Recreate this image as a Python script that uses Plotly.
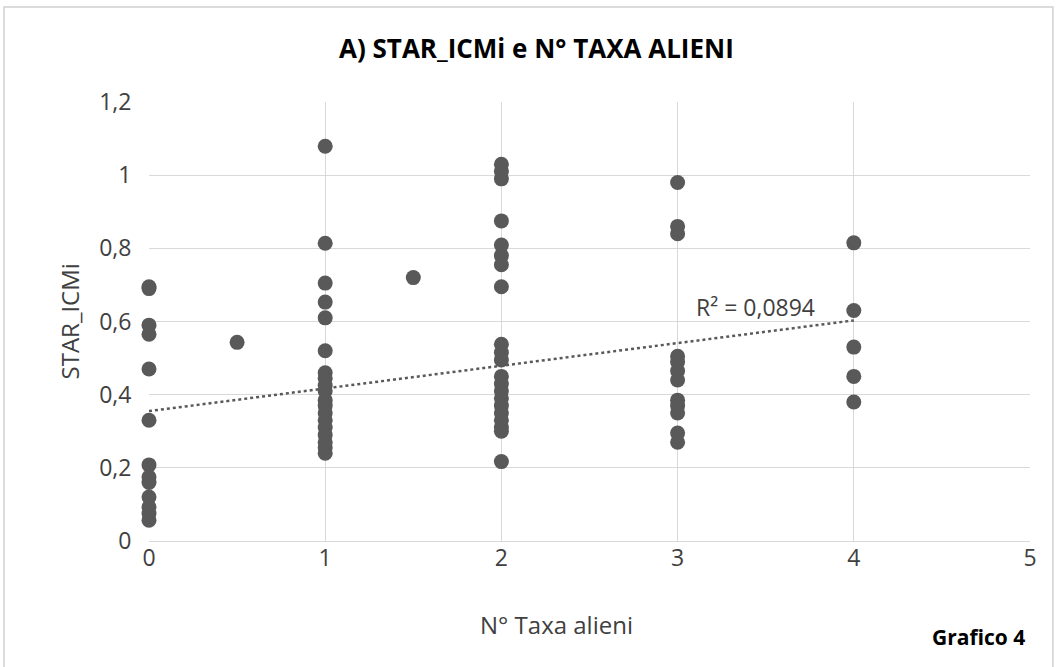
import plotly.graph_objects as go

# N° taxa alieni per stazione e relativo STAR_ICMi
taxa_0 = [0.695, 0.69, 0.59, 0.565, 0.47, 0.33, 0.208, 0.175, 0.16, 0.12, 0.093, 0.075, 0.057]
taxa_05 = [0.543]
taxa_1 = [1.079, 0.814, 0.705, 0.653, 0.61, 0.52, 0.46, 0.445, 0.425, 0.41, 0.385, 0.37,
          0.35, 0.33, 0.31, 0.29, 0.27, 0.255, 0.24]
taxa_15 = [0.72]
taxa_2 = [1.03, 1.01, 0.99, 0.875, 0.809, 0.78, 0.755, 0.695, 0.538, 0.515, 0.495, 0.45,
          0.43, 0.41, 0.39, 0.37, 0.35, 0.33, 0.31, 0.30, 0.217]
taxa_3 = [0.98, 0.86, 0.84, 0.505, 0.49, 0.465, 0.44, 0.385, 0.37, 0.35, 0.295, 0.27]
taxa_4 = [0.815, 0.63, 0.53, 0.45, 0.38]

groups = [(0, taxa_0), (0.5, taxa_05), (1, taxa_1), (1.5, taxa_15),
          (2, taxa_2), (3, taxa_3), (4, taxa_4)]
x_vals = [g for g, ys in groups for _ in ys]
y_vals = [v for _, ys in groups for v in ys]

# linear trend line (endpoints over the observed x range)
trend_x = [0, 4]
trend_y = [0.355, 0.603]
r2_label = "R² = 0,0894"
x_ticks = [0, 1, 2, 3, 4, 5]

grey = "#595959"
grid = "#d9d9d9"
text_col = "#404040"
font = "Open Sans"

fig = go.Figure()
fig.add_trace(go.Scatter(
    x=x_vals, y=y_vals, mode="markers",
    marker=dict(color=grey, size=15, line=dict(width=0)),
    showlegend=False, hoverinfo="x+y", cliponaxis=False,
))
fig.add_trace(go.Scatter(
    x=trend_x, y=trend_y, mode="lines",
    line=dict(color=grey, width=2.5, dash="dot"),
    showlegend=False, hoverinfo="skip", cliponaxis=False,
))


def label(text, x, y, size, color=text_col, angle=0, ref="paper"):
    return dict(text=text, xref=ref, yref=ref if ref == "paper" else "y",
                x=x, y=y, xanchor="center", yanchor="middle", textangle=angle,
                showarrow=False, font=dict(size=size, color=color))


fig.update_layout(
    width=1060, height=667,
    margin=dict(l=149, r=30, t=102, b=126),
    paper_bgcolor="white", plot_bgcolor="white",
    separators=", ",
    font=dict(family=font, color=text_col, size=23),
    xaxis=dict(range=[0, 5], tickvals=x_ticks, showgrid=True, gridcolor=grid,
               gridwidth=1.3, zeroline=False, showline=True, linecolor=grid,
               linewidth=1.3, ticks="", ticklabelstandoff=-4,
               tickfont=dict(size=23, color=text_col)),
    yaxis=dict(range=[0, 1.2], dtick=0.2, showgrid=True, gridcolor=grid,
               gridwidth=1.3, zeroline=False, showline=False, ticks="outside",
               ticklen=12, tickcolor="rgba(0,0,0,0)",
               tickfont=dict(size=23, color=text_col)),
    shapes=[dict(type="rect", xref="paper", yref="paper",
                 x0=-0.1646, x1=1.026, y0=-0.305, y1=1.2164,
                 line=dict(color="#d0d0d0", width=1.5), layer="below")],
    annotations=[
        label("<b>A) STAR_ICMi e N° TAXA ALIENI</b>", 0.4404, 1.123, 26, "#000000"),
        label("N° Taxa alieni", 0.463, -0.191, 24),
        label("STAR_ICMi", -0.0897, 0.5, 24, angle=-90),
        label("<b>Grafico 4</b>", 0.941, -0.219, 21, "#000000"),
        dict(text=r2_label, xref="x", yref="y", x=3.44, y=0.64, xanchor="center",
             yanchor="middle", showarrow=False, font=dict(size=23, color=text_col)),
    ],
)

fig.write_html("out.html")
